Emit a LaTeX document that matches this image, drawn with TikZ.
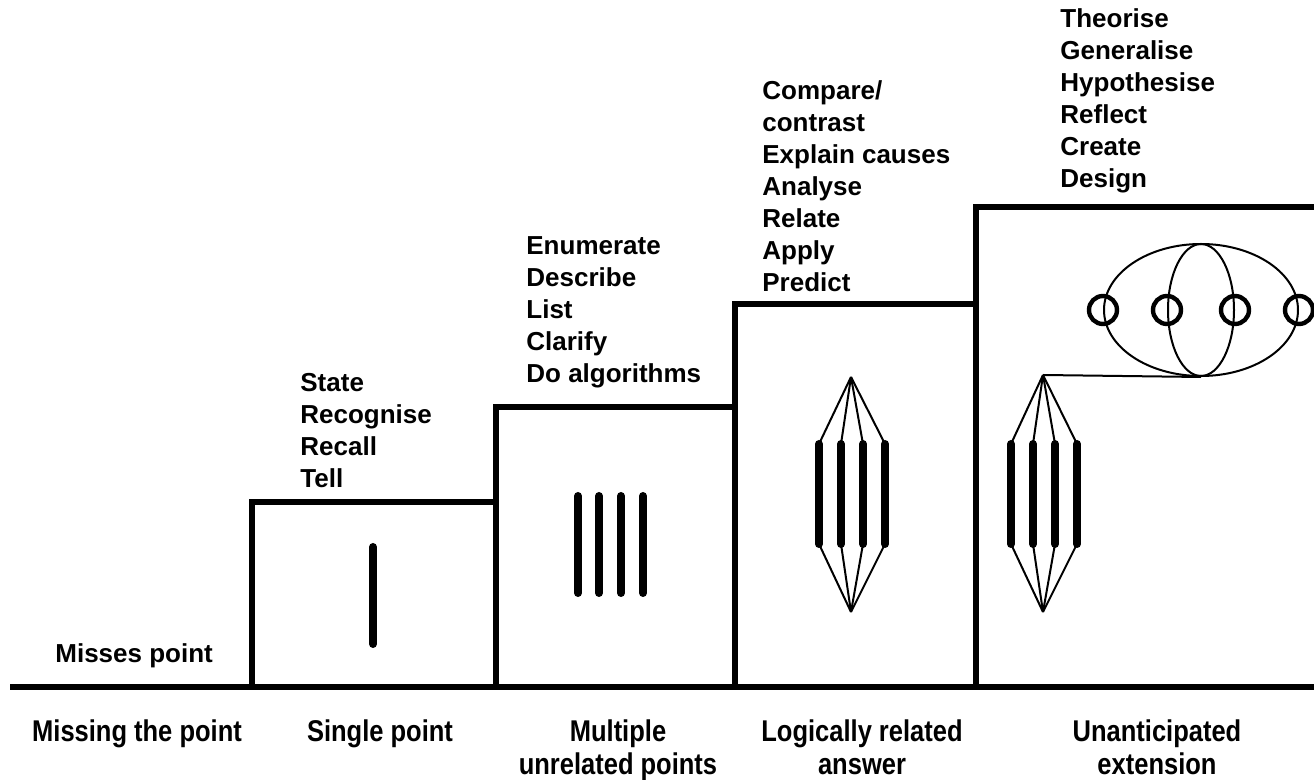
\documentclass[tikz,border=0pt]{standalone}
\usepackage{fontspec}
\setmainfont{Liberation Sans}
\newfontfamily\narrowsans{Liberation Sans}[FakeStretch=0.85]
\usepackage{tikz}
\usetikzlibrary{shapes.geometric}
\tikzset{verbs/.style = {anchor = north west, align = left, inner sep = 0, font = \fontsize{13}{16}\selectfont\bfseries}}
\tikzset{levelname/.style = {anchor = north, align = center, inner sep = 0, font = \narrowsans\fontsize{15}{16.5}\selectfont\bfseries}}
\tikzset{stair/.style = {line width = 3pt, line join = miter}}
\tikzset{bar/.style = {line width = 4pt, line cap = round}}
\tikzset{wire/.style = {line width = 1pt}}
\tikzset{ring/.style = {draw, circle, line width = 2.2pt, inner sep = 0, minimum size = 14pt}}

\begin{document}
\begin{tikzpicture}[x = 0.5pt, y = -0.5pt]
  \useasboundingbox (0, 0) rectangle (1314, 780);
  % ground and steps
  \draw [stair] (10, 687) -- (1314, 687);
  \draw [stair] (252, 687) -- (252, 502) -- (496, 502) -- (496, 407) -- (735, 407) -- (735, 304) -- (976, 304) -- (976, 207) -- (1314, 207);
  \draw [stair] (496, 502) -- (496, 687);
  \draw [stair] (735, 407) -- (735, 687);
  \draw [stair] (976, 304) -- (976, 687);

  % verbs
  \node [verbs] (misses) at (55, 643) {Misses point};
  \node [verbs] (singleverbs) at (300, 373) {State\\Recognise\\Recall\\Tell};
  \node [verbs] (multiverbs) at (526, 236) {Enumerate\\Describe\\List\\Clarify\\Do algorithms};
  \node [verbs] (relverbs) at (762, 80) {Compare/\\contrast\\Explain causes\\Analyse\\Relate\\Apply\\Predict};
  \node [verbs] (extverbs) at (1060, 8) {Theorise\\Generalise\\Hypothesise\\Reflect\\Create\\Design};

  % level names
  \node [levelname] (prestruct) at (137, 719) {Missing the point};
  \node [levelname] (unistruct) at (380, 719) {Single point};
  \node [levelname] (multistruct) at (618, 719) {Multiple\\unrelated points};
  \node [levelname] (relstruct) at (862, 719) {Logically related\\answer};
  \node [levelname] (extstruct) at (1157, 719) {Unanticipated\\extension};

  % single point
  \draw [bar] (373, 547) -- (373, 644);

  % multiple points
  \foreach \x in {578, 599, 621, 643}
    \draw [bar] (\x, 496) -- (\x, 593);

  % related answer
  \coordinate (reltop) at (851, 377);
  \coordinate (relbot) at (851, 612);
  \foreach \x [count = \i] in {819, 841, 863, 885} {
    \coordinate (rt\i) at (\x, 444);
    \coordinate (rb\i) at (\x, 544);
    \draw [bar] (rt\i) -- (rb\i);
    \draw [wire] (reltop) -- (rt\i);
    \draw [wire] (rb\i) -- (relbot);
  }

  % extension
  \coordinate (exttop) at (1043, 375);
  \coordinate (extbot) at (1043, 612);
  \foreach \x [count = \i] in {1011, 1033, 1055, 1077} {
    \coordinate (et\i) at (\x, 444);
    \coordinate (eb\i) at (\x, 544);
    \draw [bar] (et\i) -- (eb\i);
    \draw [wire] (exttop) -- (et\i);
    \draw [wire] (eb\i) -- (extbot);
  }
  \node [draw, ellipse, line width = 1pt, inner sep = 0, minimum width = 97pt, minimum height = 66pt] (outer) at (1201, 310) {};
  \node [draw, ellipse, line width = 1pt, inner sep = 0, minimum width = 33pt, minimum height = 66pt] (inner) at (1201, 310) {};
  \node [ring] (c1) at (outer.west) {};
  \node [ring] (c2) at (inner.west) {};
  \node [ring] (c3) at (inner.east) {};
  \node [ring] (c4) at (outer.east) {};
  \draw [wire] (exttop) -- (outer.south);
\end{tikzpicture}
\end{document}
